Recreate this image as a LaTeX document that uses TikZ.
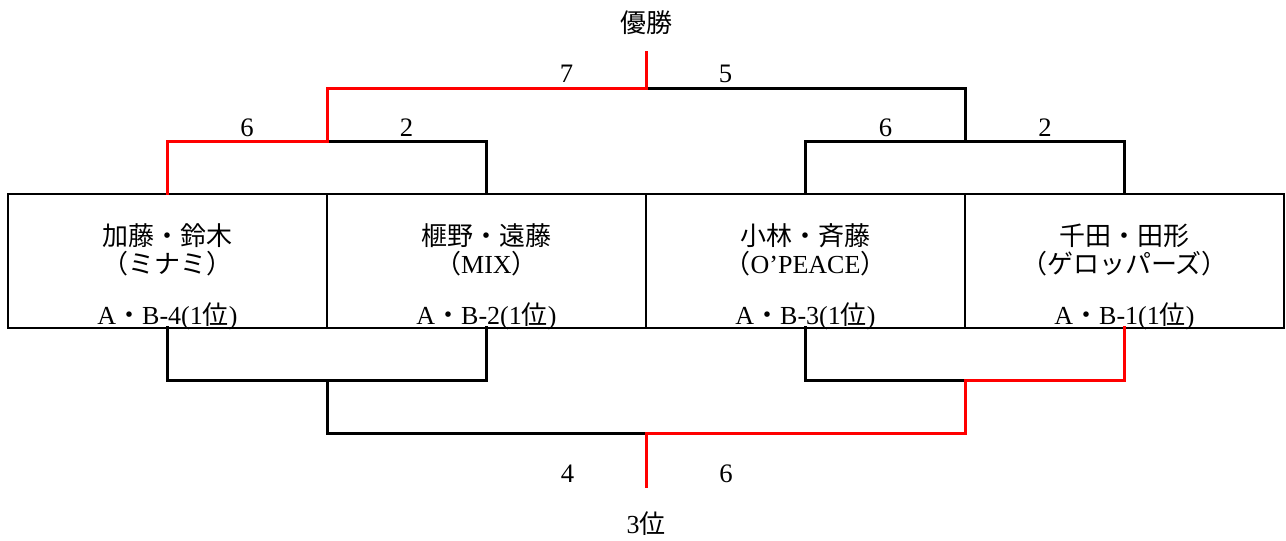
\documentclass[tikz,border=0pt]{standalone}
\usepackage{fontspec}
\setmainfont{Liberation Serif}
\newfontfamily\jp{Noto Sans CJK JP}
\tikzset{
  teambox/.style={draw,line width=1.5pt,minimum width=239.25pt,minimum height=100.5pt,inner sep=0pt,outer sep=0pt},
  txt/.style={anchor=base,inner sep=0pt,font=\fontsize{19.5}{23}\selectfont},
  score/.style={anchor=base,inner sep=0pt,font=\fontsize{20}{24}\selectfont},
  win/.style={draw=red,line width=2.25pt,line cap=rect},
  lose/.style={draw=black,line width=2.25pt,line cap=rect},
}
\begin{document}
\begin{tikzpicture}[x=0.75pt,y=-0.75pt]
\useasboundingbox (0,0) rectangle (1286,541);
% team boxes
\node[teambox] (b1) at (167.5,261) {};
\node[teambox] (b2) at (486.5,261) {};
\node[teambox] (b3) at (805.5,261) {};
\node[teambox] (b4) at (1124.5,261) {};
% texts
\node[txt] (n1) at (167.5,246) {\jp 加藤・鈴木};
\node[txt] (c1) at (167.5,274) {\jp （ミナミ）};
\node[txt] (r1) at (167.5,325) {A{\jp ・}B-4(1{\jp 位})};
\node[txt] (n2) at (486.5,246) {\jp 榧野・遠藤};
\node[txt] (c2) at (486.5,274) {{\jp （}MIX{\jp ）}};
\node[txt] (r2) at (486.5,325) {A{\jp ・}B-2(1{\jp 位})};
\node[txt] (n3) at (805.5,246) {\jp 小林・斉藤};
\node[txt] (c3) at (805.5,274) {{\jp （}O’PEACE{\jp ）}};
\node[txt] (r3) at (805.5,325) {A{\jp ・}B-3(1{\jp 位})};
\node[txt] (n4) at (1124.5,246) {\jp 千田・田形};
\node[txt] (c4) at (1124.5,274) {\jp （ゲロッパーズ）};
\node[txt] (r4) at (1124.5,325) {A{\jp ・}B-1(1{\jp 位})};
% junction coordinates
\coordinate (s1) at (327,142);
\coordinate (s2) at (965,142);
\coordinate (f) at (646,89);
\coordinate (wtop) at (646,53);
\coordinate (t1) at (327,381);
\coordinate (t2) at (965,381);
\coordinate (g) at (646,434);
\coordinate (tbot) at (646,487);
% winners bracket
\draw[lose] (s1) -| (b2.north);
\draw[lose] (b3.north) |- (s2) -| (b4.north);
\draw[lose] (f) -| (s2);
\draw[win] (b1.north) |- (s1);
\draw[win] (s1) |- (f);
\draw[win] (f) -- (wtop);
% third place bracket
\draw[lose] (b1.south) |- (t1) -| (b2.south);
\draw[lose] (b3.south) |- (t2);
\draw[lose] (t1) |- (g);
\draw[win] (b4.south) |- (t2);
\draw[win] (t2) |- (g);
\draw[win] (g) -- (tbot);
% titles
\node[txt] (champ) at (646,33) {\jp 優勝};
\node[txt] (third) at (646,533) {3{\jp 位}};
% scores
\node[score] (sa) at (247,137) {6};
\node[score] (sb) at (406.5,137) {2};
\node[score] (sc) at (566.5,83) {7};
\node[score] (sd) at (725.5,83) {5};
\node[score] (se) at (885.5,137) {6};
\node[score] (sf) at (1045,137) {2};
\node[score] (sg) at (567.5,483) {4};
\node[score] (sh) at (726,483) {6};
\end{tikzpicture}
\end{document}
